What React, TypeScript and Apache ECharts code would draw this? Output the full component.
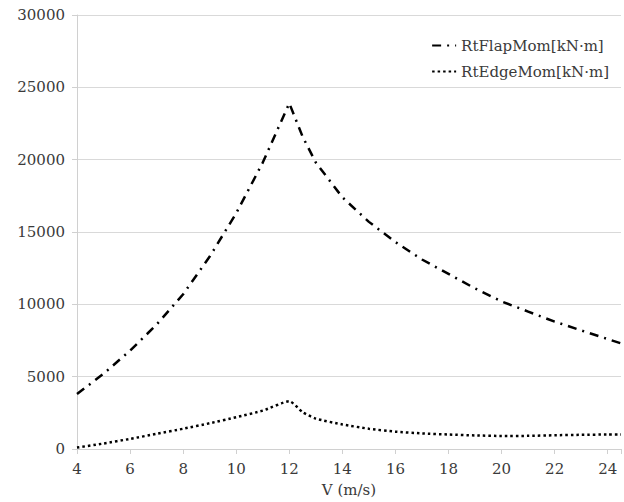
import React, { useEffect, useRef } from "react";
import * as echarts from "echarts";

const speeds = [4, 5, 6, 7, 8, 9, 10, 11, 12, 12.5, 13, 14, 15, 16, 17, 18, 19, 20, 21, 22, 23, 24, 24.5];
const flapMom = [3800, 5200, 6800, 8600, 10700, 13300, 16300, 19800, 23900, 21600, 19800, 17400, 15700, 14300, 13100, 12100, 11100, 10200, 9500, 8800, 8200, 7600, 7300];
const edgeMom = [100, 380, 700, 1050, 1400, 1780, 2200, 2650, 3300, 2550, 2100, 1700, 1400, 1200, 1080, 1000, 940, 900, 910, 950, 980, 1000, 1000];
const seriesNames = ["RtFlapMom[kN·m]", "RtEdgeMom[kN·m]"];
const xName = "V (m/s)";

const FONT = "DejaVu Serif";
const TXT = "#3a3a3a";

export default function App() {
  const ref = useRef<HTMLDivElement>(null);
  useEffect(() => {
    const chart = echarts.init(ref.current!, null, { renderer: "svg" });
    chart.setOption({
      animation: false,
      backgroundColor: "#ffffff",
      grid: { left: 77, top: 15, right: 0, bottom: 49, containLabel: false },
      legend: {
        orient: "vertical",
        right: 10,
        top: 33,
        itemGap: 11,
        itemWidth: 24,
        itemHeight: 14,
        itemStyle: { opacity: 0 },
        textStyle: { fontFamily: FONT, fontSize: 15, color: TXT },
        data: seriesNames,
      },
      xAxis: {
        type: "value",
        min: 4,
        max: 24.5,
        interval: 2,
        name: xName,
        nameLocation: "middle",
        nameGap: 33,
        nameTextStyle: { fontFamily: FONT, fontSize: 15, color: TXT },
        axisLine: { show: true, lineStyle: { color: "#d0d0d0", width: 1 } },
        axisTick: { show: true, length: 5, lineStyle: { color: "#d0d0d0" } },
        axisLabel: {
          fontFamily: FONT,
          fontSize: 15,
          color: TXT,
          margin: 12,
          formatter: (v: number) => (Math.abs(v - Math.round(v)) < 1e-6 && Math.round(v) % 2 === 0 ? String(v) : ""),
        },
        splitLine: { show: false },
      },
      yAxis: {
        type: "value",
        min: 0,
        max: 30000,
        interval: 5000,
        axisLine: { show: true, lineStyle: { color: "#d0d0d0", width: 1 } },
        axisTick: { show: true, length: 5, lineStyle: { color: "#d0d0d0" } },
        axisLabel: { fontFamily: FONT, fontSize: 15, color: TXT, margin: 12, formatter: (v: number) => String(v) },
        splitLine: { show: true, lineStyle: { color: "#d9d9d9", width: 1 } },
      },
      series: [
        {
          name: seriesNames[0],
          type: "line",
          data: speeds.map((s, i) => [s, flapMom[i]]),
          showSymbol: false,
          symbol: "none",
          smooth: false,
          lineStyle: { color: "#000000", width: 2.5, type: [9, 6, 2, 6] },
          itemStyle: { color: "#000000" },
        },
        {
          name: seriesNames[1],
          type: "line",
          data: speeds.map((s, i) => [s, edgeMom[i]]),
          showSymbol: false,
          symbol: "none",
          smooth: 0.2,
          lineStyle: { color: "#000000", width: 2.5, type: [2.5, 3] },
          itemStyle: { color: "#000000" },
        },
      ],
    });
    return () => chart.dispose();
  }, []);
  return <div ref={ref} style={{ width: 624, height: 502, position: "absolute", left: 0, top: 0 }} />;
}
